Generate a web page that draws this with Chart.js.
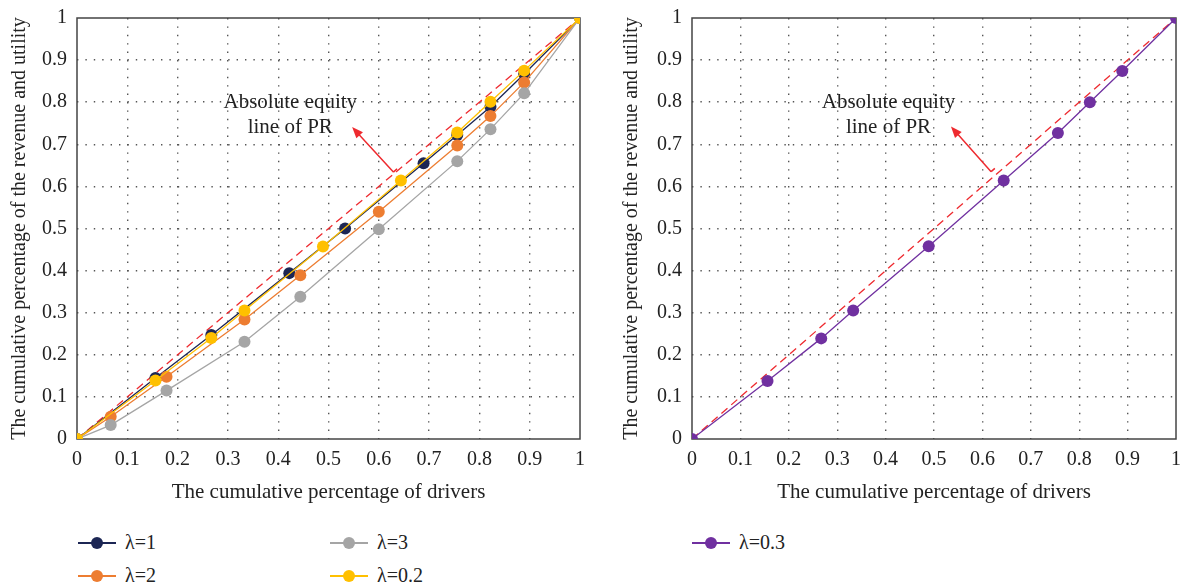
<!DOCTYPE html>
<html>
<head>
<meta charset="utf-8">
<script src="https://cdn.jsdelivr.net/npm/chart.js@4"></script>
<style>
  body { margin: 0; background: #fff; width: 1182px; height: 588px; position: relative; overflow: hidden; }
  .box { position: absolute; top: 0; height: 515px; }
  .legend { position: absolute; top: 526px; display: grid; grid-auto-flow: column; grid-template-rows: 33px 33px;
    font-family: 'Liberation Serif', serif; font-size: 20px; color: #222; }
  .item { display: flex; align-items: center; height: 33px; }
  .swatch { position: relative; width: 38px; height: 12px; margin-right: 9px; }
  .swatch .ln { position: absolute; left: 0; right: 0; top: 5px; height: 2px; }
  .swatch .dot { position: absolute; left: 13px; top: 0; width: 12px; height: 12px; border-radius: 50%; }
</style>
</head>
<body>
<div class="box" style="left:0;width:600px"><canvas id="left"></canvas></div>
<div class="box" style="left:612px;width:570px"><canvas id="right"></canvas></div>
<div class="legend" id="legendLeft" style="left:78px;grid-template-columns:252px 252px"></div>
<div class="legend" id="legendRight" style="left:692px"></div>
<script>
// cumulative share of drivers (x) and of revenue/utility (y)
const driversL1 = [0, 0.156, 0.267, 0.422, 0.533, 0.689, 0.756, 0.822, 0.889, 1];
const revenueL1 = [0, 0.145, 0.247, 0.394, 0.500, 0.655, 0.722, 0.789, 0.867, 1];
const driversL2 = [0, 0.067, 0.178, 0.333, 0.444, 0.600, 0.756, 0.822, 0.889, 1];
const revenueL2 = [0, 0.053, 0.148, 0.284, 0.389, 0.540, 0.697, 0.767, 0.847, 1];
const driversL3 = [0, 0.067, 0.178, 0.333, 0.444, 0.600, 0.756, 0.822, 0.889, 1];
const revenueL3 = [0, 0.033, 0.115, 0.231, 0.338, 0.498, 0.660, 0.736, 0.821, 1];
const driversL02 = [0, 0.156, 0.267, 0.333, 0.489, 0.644, 0.756, 0.822, 0.889, 1];
const revenueL02 = [0, 0.139, 0.240, 0.305, 0.457, 0.614, 0.728, 0.801, 0.875, 1];
const driversL03 = [0, 0.156, 0.267, 0.333, 0.489, 0.644, 0.756, 0.822, 0.889, 1];
const revenueL03 = [0, 0.138, 0.239, 0.305, 0.458, 0.614, 0.727, 0.800, 0.874, 1];
const equityX = [0, 1];
const equityY = [0, 1];

const tickLabels = ['0', '0.1', '0.2', '0.3', '0.4', '0.5', '0.6', '0.7', '0.8', '0.9', '1'];
const noteLines = ['Absolute equity', 'line of PR'];

Chart.defaults.font.family = "'Liberation Serif', serif";
Chart.defaults.color = '#222';

const pts = (xs, ys) => xs.map((x, i) => ({ x, y: ys[i] }));

function series(label, xs, ys, color, order) {
  return {
    label, data: pts(xs, ys), order,
    borderColor: color, backgroundColor: color,
    borderWidth: 1.3, pointRadius: 6, pointBorderWidth: 0, pointHoverRadius: 6,
  };
}

function equity() {
  return {
    label: 'equity', data: pts(equityX, equityY), order: 10,
    borderColor: '#ee2a2f', borderWidth: 1.3, borderDash: [8, 5], pointRadius: 0,
  };
}

// frame, note text and arrow
const frame = {
  id: 'frame',
  beforeDatasetsDraw(chart) {
    const { ctx, chartArea: a } = chart;
    ctx.save();
    ctx.strokeStyle = '#444';
    ctx.lineWidth = 1.5;
    ctx.strokeRect(a.left, a.top, a.right - a.left, a.bottom - a.top);
    ctx.restore();
  },
  afterDatasetsDraw(chart, args, opts) {
    const { ctx, scales: { x, y } } = chart;
    ctx.save();
    ctx.font = "21px 'Liberation Serif', serif";
    ctx.fillStyle = '#222';
    ctx.textAlign = 'center';
    ctx.textBaseline = 'middle';
    ctx.fillText(noteLines[0], x.getPixelForValue(opts.textX), y.getPixelForValue(opts.textY));
    ctx.fillText(noteLines[1], x.getPixelForValue(opts.textX), y.getPixelForValue(opts.textY) + 25);
    const x0 = x.getPixelForValue(opts.tail[0]), y0 = y.getPixelForValue(opts.tail[1]);
    const x1 = x.getPixelForValue(opts.head[0]), y1 = y.getPixelForValue(opts.head[1]);
    const ang = Math.atan2(y1 - y0, x1 - x0);
    ctx.strokeStyle = '#ee2a2f';
    ctx.fillStyle = '#ee2a2f';
    ctx.lineWidth = 1.5;
    ctx.beginPath();
    ctx.moveTo(x0, y0);
    ctx.lineTo(x1 - 8 * Math.cos(ang), y1 - 8 * Math.sin(ang));
    ctx.moveTo(x0, y0);
    ctx.lineTo(x0 + 5 * Math.cos(ang + Math.PI / 2), y0 + 5 * Math.sin(ang + Math.PI / 2));
    ctx.stroke();
    ctx.beginPath();
    ctx.moveTo(x1, y1);
    ctx.lineTo(x1 - 12 * Math.cos(ang - 0.38), y1 - 12 * Math.sin(ang - 0.38));
    ctx.lineTo(x1 - 12 * Math.cos(ang + 0.38), y1 - 12 * Math.sin(ang + 0.38));
    ctx.closePath();
    ctx.fill();
    ctx.restore();
  },
};

function axis(title, size, isY) {
  return {
    type: 'linear', min: 0, max: 1,
    grid: {
      drawTicks: false,
      color: c => (c.index === 0 || c.index === 10 ? 'rgba(0,0,0,0)' : '#555'),
      lineWidth: 1.4,
    },
    border: { display: false, dash: [1.4, 7] },
    ticks: {
      stepSize: 0.1, padding: isY ? 10 : 9,
      font: { size: 20 },
      callback: (v, i) => tickLabels[i],
    },
    title: {
      display: true, text: title, font: { size: isY ? 20 : 21 },
      padding: isY ? { top: 8, bottom: 0 } : { top: 0, bottom: 10 },
    },
    afterFit: s => {
      if (isY) { s.width = size; s.paddingTop = 0; s.paddingBottom = 0; }
      else { s.height = size; s.paddingLeft = 0; s.paddingRight = 0; }
    },
  };
}

function makeChart(id, datasets, yWidth, padRight, note) {
  const cfg = {
    type: 'line',
    data: { datasets },
    options: {
      responsive: true, maintainAspectRatio: false, animation: false,
      layout: { padding: { top: 18, right: padRight, left: 0, bottom: 0 } },
      scales: {
        x: axis('The cumulative percentage of drivers', 76, false),
        y: axis('The cumulative percentage of the revenue and utility', yWidth, true),
      },
      plugins: { legend: { display: false }, tooltip: { enabled: false }, frame: note },
    },
    plugins: [frame],
  };
  // dotted grid
  cfg.options.scales.x.grid.borderDash = [1.4, 7];
  cfg.options.scales.y.grid.borderDash = [1.4, 7];
  return new Chart(document.getElementById(id), cfg);
}

function buildLegend(el, chart) {
  chart.data.datasets.filter(d => d.label !== 'equity').forEach(d => {
    const item = document.createElement('div');
    item.className = 'item';
    item.innerHTML = '<span class="swatch"><span class="ln" style="background:' + d.borderColor +
      '"></span><span class="dot" style="background:' + d.borderColor + '"></span></span><span>' + d.label + '</span>';
    el.appendChild(item);
  });
}

const leftChart = makeChart('left', [
  series('λ=1', driversL1, revenueL1, '#1c2654', 4),
  series('λ=2', driversL2, revenueL2, '#ed7d31', 3),
  series('λ=3', driversL3, revenueL3, '#a5a5a5', 2),
  series('λ=0.2', driversL02, revenueL02, '#ffc000', 1),
  equity(),
], 77, 20, { textX: 0.424, textY: 0.80, tail: [0.629, 0.634], head: [0.547, 0.741] });

const rightChart = makeChart('right', [
  series('λ=0.3', driversL03, revenueL03, '#7030a0', 1),
  equity(),
], 80, 5, { textX: 0.406, textY: 0.80, tail: [0.618, 0.635], head: [0.535, 0.742] });

buildLegend(document.getElementById('legendLeft'), leftChart);
buildLegend(document.getElementById('legendRight'), rightChart);
</script>
</body>
</html>
